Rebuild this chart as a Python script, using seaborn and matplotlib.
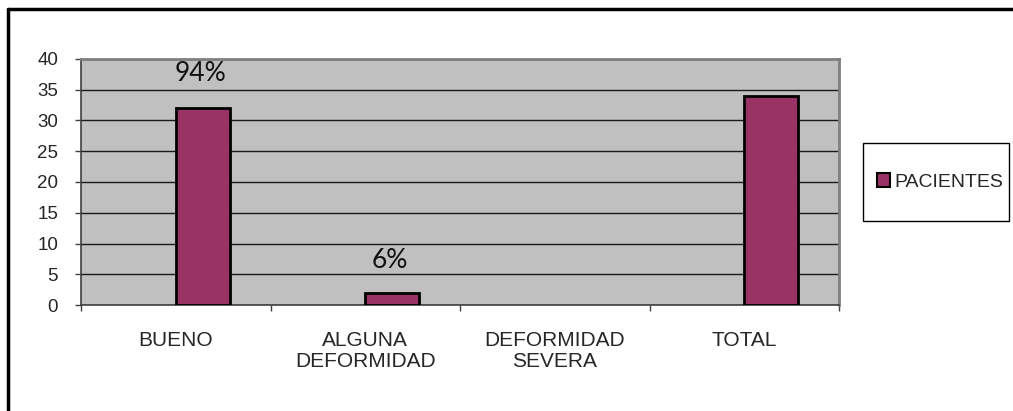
import matplotlib
matplotlib.use("Agg")
import matplotlib.pyplot as plt
import seaborn as sns
import pandas as pd
import numpy as np
from matplotlib.lines import Line2D
from matplotlib.patches import Rectangle

categories = ["BUENO", "ALGUNA\nDEFORMIDAD", "DEFORMIDAD\nSEVERA", "TOTAL"]
pacientes = [32, 2, 0, 34]
series_names = ["_vacio", "PACIENTES"]   # first Excel series is empty
pct_labels = ["94%", "6%", "", ""]
pct_y = [37.7, 7.3, None, None]
yticks = [0, 5, 10, 15, 20, 25, 30, 35, 40]

sns.set_theme(style="white")
plt.rcParams['font.family'] = ['Liberation Sans', 'DejaVu Sans']

df = pd.DataFrame({
    "cat": categories * 2,
    "val": [np.nan] * len(categories) + pacientes,
    "serie": [series_names[0]] * len(categories) + [series_names[1]] * len(categories),
})

fig = plt.figure(figsize=(10.13, 4.11), dpi=100)
ax = fig.add_axes([81/1013, (411-305)/411, 758/1013, 246/411])
ax.set_facecolor("#c0c0c0")

sns.barplot(data=df, x="cat", y="val", hue="serie", hue_order=series_names,
            palette=["#c0c0c0", "#993366"], saturation=1, width=0.57, dodge=True,
            edgecolor="black", linewidth=2, ax=ax, zorder=3, legend=False)
for p in ax.patches:
    if not np.isfinite(p.get_height()) or p.get_height() == 0:
        p.set_visible(False)

ax.set_ylim(0, 40)
ax.set_xlim(-0.5, 3.5)
ax.set_yticks(yticks)
ax.set_yticklabels([str(t) for t in yticks], fontsize=13.5)
ax.yaxis.grid(True, color="#1a1a1a", linewidth=1, zorder=0)
ax.set_axisbelow(True)
ax.set_xticks([-0.5, 0.5, 1.5, 2.5, 3.5])
ax.set_xticklabels([])
ax.tick_params(axis="x", direction="out", length=4, color="#404040", width=1, bottom=True)
ax.tick_params(axis="y", direction="out", length=4.5, color="#404040", width=1, left=True, pad=12)
for i, c in enumerate(categories):
    ax.text(i, -4.2, c, ha="center", va="top", fontsize=15, linespacing=1.15)
for sp in ["top", "right"]:
    ax.spines[sp].set_color("#808080")
    ax.spines[sp].set_linewidth(2)
for sp in ["left", "bottom"]:
    ax.spines[sp].set_color("#404040")
    ax.spines[sp].set_linewidth(1.2)
ax.set_xlabel("")
ax.set_ylabel("")

for i, (lab, yy) in enumerate(zip(pct_labels, pct_y)):
    if lab:
        ax.text(i + 0.13, yy, lab, ha="center", va="center", fontsize=19,
                family=["Lato", "DejaVu Sans"], color="#111111")

# legend (only the visible series)
handle = Rectangle((0, 0), 1, 1, facecolor="#993366", edgecolor="black", linewidth=1.5)
leg = fig.legend([handle], [series_names[1]], loc="center",
                 bbox_to_anchor=(940/1013, 1 - 182/411), frameon=False, fontsize=14,
                 handlelength=0.67, handleheight=0.67, handletextpad=0.2, borderpad=0)
fig.add_artist(Rectangle((863/1013, 1 - 221/411), 146/1013, 78/411, transform=fig.transFigure,
                         fill=False, edgecolor="black", linewidth=1))

fig.add_artist(Line2D([8/1013, 8/1013], [0, 1 - 9/411], transform=fig.transFigure, color="black", linewidth=2.5))
fig.add_artist(Line2D([8/1013, 1], [1 - 9/411, 1 - 9/411], transform=fig.transFigure, color="black", linewidth=2.5))

fig.savefig("out.png", dpi=100)
